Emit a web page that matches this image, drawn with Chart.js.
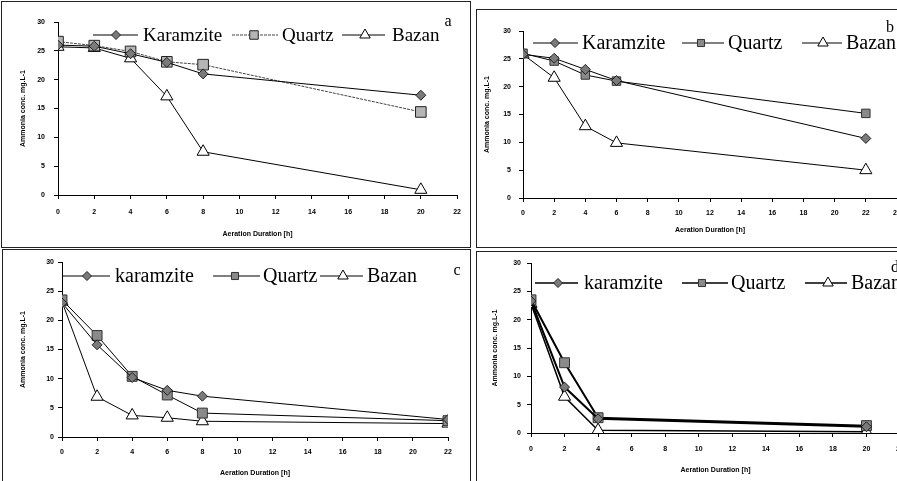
<!DOCTYPE html>
<html>
<head>
<meta charset="utf-8">
<script src="https://cdn.jsdelivr.net/npm/chart.js@4.4.1/dist/chart.umd.min.js"></script>
<style>
html, body { margin: 0; padding: 0; background: #fff; }
body { width: 897px; height: 481px; overflow: hidden; position: relative; }
.panel { position: absolute; border: 1px solid #222; box-sizing: border-box; }
canvas { position: absolute; }
</style>
</head>
<body>
<div class="panel" style="left:1px;top:1px;width:470px;height:247px"></div>
<div class="panel" style="left:476px;top:9px;width:440px;height:239px"></div>
<div class="panel" style="left:2px;top:249px;width:469px;height:240px"></div>
<div class="panel" style="left:476px;top:251px;width:440px;height:240px"></div>

<canvas id="chartA" width="469" height="246" style="left:1px;top:1px"></canvas>
<canvas id="chartB" width="440" height="237" style="left:477px;top:10px"></canvas>
<canvas id="chartC" width="468" height="231" style="left:2px;top:250px"></canvas>
<canvas id="chartD" width="440" height="229" style="left:477px;top:252px"></canvas>

<script>
// aeration time (h) and ammonia concentration (mg/L) for each panel
const hoursA = [0, 2, 4, 6, 8, 20];
const karamziteA = [26, 25.8, 24.5, 23, 21, 17.3];
const quartzA = [26.6, 25.9, 24.9, 23.1, 22.6, 14.4];
const bazanA = [25.7, 25.5, 23.7, 17.1, 7.5, 0.9];

const hoursB = [0, 2, 4, 6, 22];
const karamziteB = [25.8, 25.1, 23.1, 21.1, 10.7];
const quartzB = [26, 24.6, 22.1, 21, 15.2];
const bazanB = [25.8, 21.6, 12.9, 9.9, 5];

const hoursC = [0, 2, 4, 6, 8, 22];
const karamziteC = [23, 15.8, 10.2, 8, 7, 3];
const quartzC = [23.5, 17.4, 10.4, 7.2, 4.1, 2.8];
const bazanC = [23.2, 6.9, 3.7, 3.3, 2.7, 2.3];

const hoursD = [0, 2, 4, 20];
const karamziteD = [23.3, 8.1, 2.5, 1.1];
const quartzD = [23.5, 12.4, 2.7, 1.3];
const bazanD = [22.8, 6.4, 0.5, 0.2];

const namesAB = ['Karamzite', 'Quartz', 'Bazan'];
const namesCD = ['karamzite', 'Quartz', 'Bazan'];
const panelLetters = ['a', 'b', 'c', 'd'];
const yTitle = 'Ammonia conc. mg.L-1';
const xTitle = 'Aeration Duration [h]';

function drawMarker(ctx, style, x, y, r, fill, stroke) {
    ctx.beginPath();
    if (style === 'rectRot') {
        ctx.moveTo(x, y - r); ctx.lineTo(x + r, y); ctx.lineTo(x, y + r); ctx.lineTo(x - r, y);
    } else if (style === 'rect') {
        const h = r * Math.SQRT1_2;
        ctx.rect(x - h, y - h, 2 * h, 2 * h);
    } else {
        ctx.moveTo(x, y - r);
        ctx.lineTo(x + r * 0.866, y + r * 0.5);
        ctx.lineTo(x - r * 0.866, y + r * 0.5);
    }
    ctx.closePath();
    ctx.fillStyle = fill; ctx.fill();
    ctx.lineWidth = 1; ctx.strokeStyle = stroke; ctx.stroke();
}

// legend drawn as "line - marker - line  text", like the original figure
const lineLegend = {
    id: 'lineLegend',
    afterDraw(chart, args, opts) {
        const ctx = chart.ctx;
        ctx.save();
        chart.data.datasets.forEach((ds, i) => {
            const it = opts.items[i];
            ctx.strokeStyle = ds.borderColor;
            ctx.lineWidth = Math.min(ds.borderWidth, 1.5);
            ctx.setLineDash(ds.borderDash || []);
            ctx.beginPath(); ctx.moveTo(it[0], opts.y); ctx.lineTo(it[1], opts.y); ctx.stroke();
            ctx.setLineDash([]);
            drawMarker(ctx, ds.pointStyle, it[2], opts.y, opts.r[i], ds.pointBackgroundColor, ds.pointBorderColor);
            ctx.fillStyle = '#000';
            ctx.font = opts.fontSize + 'px "Liberation Serif"';
            ctx.textBaseline = 'middle';
            ctx.textAlign = 'left';
            ctx.fillText(ds.label, it[3], opts.y + 1);
        });
        ctx.font = '16px "Liberation Serif"';
        ctx.textAlign = 'center';
        ctx.fillText(opts.letter, opts.letterPos[0], opts.letterPos[1]);
        ctx.restore();
    }
};

function series(hours, vals, name, look) {
    return Object.assign({
        label: name,
        data: hours.map((h, i) => ({ x: h, y: vals[i] })),
        borderColor: '#000',
        borderWidth: 1,
        pointBorderWidth: 1,
        tension: 0
    }, look);
}

const tickFont = { family: 'Liberation Sans', size: 7, weight: 'bold' };

function makeChart(id, datasets, g) {
    const ctx = document.getElementById(id).getContext('2d');
    return new Chart(ctx, {
        type: 'line',
        data: { datasets: datasets },
        options: {
            responsive: false,
            animation: false,
            layout: { padding: { left: 0, top: g.top, right: g.right, bottom: 0 } },
            plugins: {
                legend: { display: false },
                tooltip: { enabled: false },
                lineLegend: g.legend
            },
            scales: {
                x: {
                    type: 'linear', min: 0, max: g.xMax,
                    afterFit: s => { s.height = g.xh; },
                    ticks: { stepSize: 2, autoSkip: false, maxRotation: 0, padding: g.xPad, color: '#000', font: tickFont },
                    grid: { drawOnChartArea: false, drawTicks: true, tickLength: 4, color: '#000' },
                    border: { color: '#000', width: 1 },
                    title: { display: true, text: xTitle, color: '#000', font: tickFont, padding: { top: 0, bottom: g.xTitlePad } }
                },
                y: {
                    min: 0, max: 30,
                    afterFit: s => { s.width = g.yw; },
                    ticks: { stepSize: 5, padding: g.yPad, color: '#000', font: tickFont },
                    grid: { drawOnChartArea: false, drawTicks: true, tickLength: 4, color: '#000' },
                    border: { color: '#000', width: 1 },
                    title: { display: true, text: yTitle, color: '#000', font: tickFont, padding: { top: g.yTitlePad, bottom: 0 } }
                }
            }
        },
        plugins: [lineLegend]
    });
}

const kLook = { pointStyle: 'rectRot', pointRadius: 5, pointBackgroundColor: '#7a7a7a', pointBorderColor: '#222' };
const bLook = { pointStyle: 'triangle', pointRadius: 7, pointBackgroundColor: '#fff', pointBorderColor: '#000' };

makeChart('chartA', [
    series(hoursA, karamziteA, namesAB[0], kLook),
    series(hoursA, quartzA, namesAB[1], { pointStyle: 'rect', pointRadius: 7.5, pointBackgroundColor: '#b5b5b5', pointBorderColor: '#222', borderColor: '#444', borderDash: [3, 1] }),
    series(hoursA, bazanA, namesAB[2], bLook)
], {
    xMax: 22, top: 21, right: 5, yw: 57, xh: 52, yPad: 9, xPad: 9, yTitlePad: 18, xTitlePad: 9,
    legend: { y: 34, fontSize: 19, r: [4.5, 6, 6], items: [[92, 137, 115, 142], [231, 277, 253, 281], [341, 384, 364, 391]], letter: panelLetters[0], letterPos: [447, 21] }
});

makeChart('chartB', [
    series(hoursB, karamziteB, namesAB[0], kLook),
    series(hoursB, quartzB, namesAB[1], { pointStyle: 'rect', pointRadius: 6, pointBackgroundColor: '#8a8a8a', pointBorderColor: '#333' }),
    series(hoursB, bazanB, namesAB[2], bLook)
], {
    xMax: 24, top: 21, right: 20, yw: 46, xh: 49, yPad: 8, xPad: 7, yTitlePad: 6, xTitlePad: 13,
    legend: { y: 33, fontSize: 20, r: [4.5, 5, 6], items: [[56, 101, 78, 105], [205, 247, 224, 251], [325, 365, 346, 369]], letter: panelLetters[1], letterPos: [413, 18] }
});

makeChart('chartC', [
    series(hoursC, karamziteC, namesCD[0], kLook),
    series(hoursC, quartzC, namesCD[1], { pointStyle: 'rect', pointRadius: 7, pointBackgroundColor: '#8a8a8a', pointBorderColor: '#333' }),
    series(hoursC, bazanC, namesCD[2], bLook)
], {
    xMax: 22, top: 12, right: 22, yw: 60, xh: 44, yPad: 4, xPad: 7, yTitlePad: 17, xTitlePad: 4,
    legend: { y: 26, fontSize: 20, r: [4.5, 5, 6], items: [[61, 108, 85, 113], [211, 258, 233, 261], [318, 361, 341, 365]], letter: panelLetters[2], letterPos: [455, 21] }
});

makeChart('chartD', [
    series(hoursD, karamziteD, namesCD[0], Object.assign({ borderWidth: 2 }, kLook)),
    series(hoursD, quartzD, namesCD[1], { pointStyle: 'rect', pointRadius: 7, pointBackgroundColor: '#8a8a8a', pointBorderColor: '#333', borderWidth: 2 }),
    series(hoursD, bazanD, namesCD[2], Object.assign({ borderWidth: 1.5 }, bLook))
], {
    xMax: 22, top: 11, right: 17, yw: 54, xh: 48, yPad: 6, xPad: 8, yTitlePad: 14, xTitlePad: 7,
    legend: { y: 31, fontSize: 20, r: [4.5, 5, 6], items: [[58, 101, 81, 107], [205, 251, 225, 254], [328, 370, 351, 374]], letter: panelLetters[3], letterPos: [418, 16] }
});
</script>
</body>
</html>
